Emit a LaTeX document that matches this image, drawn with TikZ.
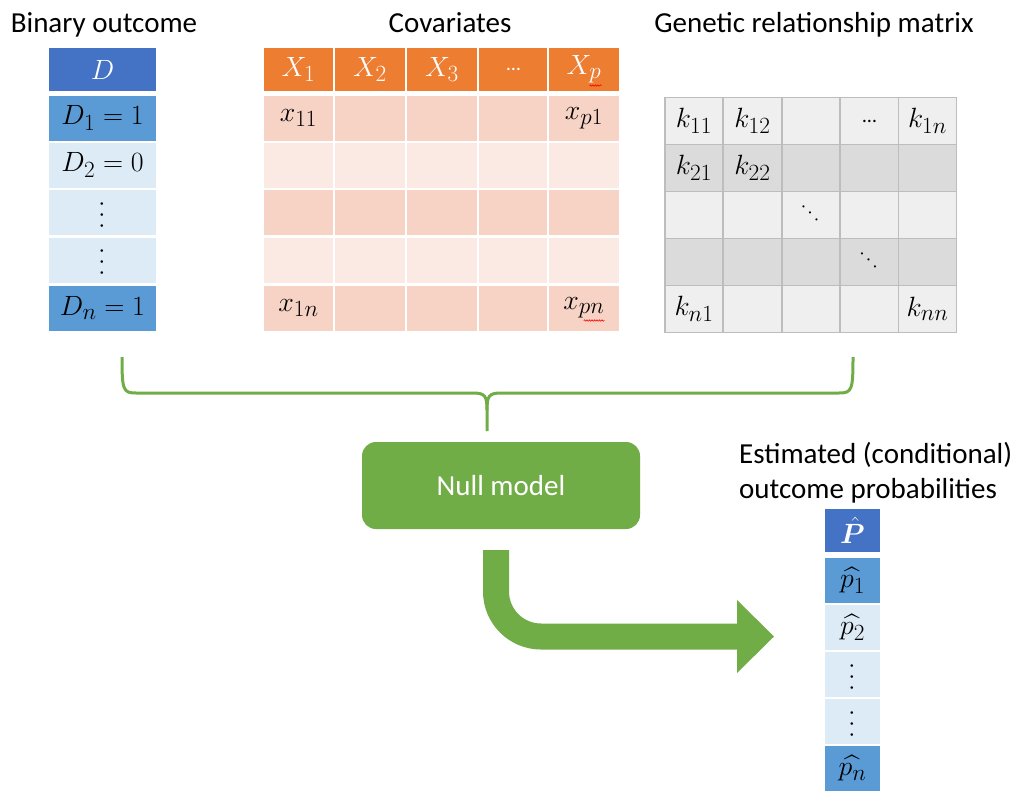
\documentclass[tikz,border=0pt]{standalone}
\usepackage{amsmath,bm,graphicx}
\usepackage[no-math]{fontspec}
\setmainfont{Carlito}
\usetikzlibrary{calc,decorations.pathmorphing}
\definecolor{dblue}{HTML}{4472C4}
\definecolor{mblue}{HTML}{5B9BD5}
\definecolor{lblue}{HTML}{DDEBF7}
\definecolor{orng}{HTML}{ED7D31}
\definecolor{pkA}{HTML}{F7D3C5}
\definecolor{pkB}{HTML}{FBE9E3}
\definecolor{grA}{HTML}{EFEFEF}
\definecolor{grB}{HTML}{DBDBDB}
\definecolor{grline}{HTML}{BDBDBD}
\definecolor{grn}{HTML}{70AD47}
\newcommand\mathsz{\fontsize{24.88}{30}\selectfont}
\newcommand\lblsz{\fontsize{29}{35}\selectfont}
\newcommand\mm[1]{\scalebox{1.12}{$#1$}}
\newcommand\myvdots{\rotatebox{90}{$\cdots$}}
\newcommand\myddots{\rotatebox{-45}{\fontsize{20}{24}\selectfont$\cdots$}}
\tikzset{
  lbl/.style={font=\lblsz, inner sep=0pt},
  bcell/.style={draw=white, line width=2pt, inner sep=0pt, minimum width=109pt, minimum height=47pt, font=\mathsz},
  ccell/.style={draw=white, line width=2pt, inner sep=0pt, minimum width=71.5pt, minimum height=47pt, font=\mathsz},
  gcell/.style={draw=grline, line width=1.5pt, inner sep=0pt, minimum width=58.4pt, minimum height=47pt, font=\mathsz},
  ecell/.style={draw=white, line width=2pt, inner sep=0pt, minimum width=57pt, minimum height=47pt, font=\mathsz},
  mtxt/.style={inner sep=0pt, font=\mathsz},
  spell/.style={red, line width=0.6pt, decorate, decoration={snake, amplitude=0.7pt, segment length=2.5pt}},
  bracestyle/.style={grn, line width=3pt},
}
\begin{document}
\begin{tikzpicture}[x=1pt,y=-1pt]
\useasboundingbox (0,0) rectangle (1020,790);
\fill[white] (0,0) rectangle (1020,790);

% titles
\node[lbl, anchor=base] (tBin) at (104,32) {Binary outcome};
\node[lbl, anchor=base] (tCov) at (450,32) {Covariates};
\node[lbl, anchor=base] (tGrm) at (814,32) {Genetic relationship matrix};
\node[lbl, anchor=base west] (tEst1) at (739,463) {Estimated (conditional)};
\node[lbl, anchor=base west] (tEst2) at (739,498) {outcome probabilities};

% binary outcome table
\node[bcell, fill=dblue, text=white, minimum height=45pt] (D0) at (102.5,69.5) {\mm{D}};
\node[bcell, fill=mblue] (D1) at (102.5,118) {\mm{D_1=1}};
\node[bcell, fill=lblue] (D2) at (102.5,165) {\mm{D_2=0}};
\node[bcell, fill=lblue] (D3) at (102.5,212.5) {\myvdots};
\node[bcell, fill=lblue] (D4) at (102.5,260) {\myvdots};
\node[bcell, fill=mblue] (D5) at (102.5,308) {\mm{D_n=1}};

% covariates table
\foreach \c/\xc in {1/298.5,2/370,3/442,4/513.5,5/584}{
  \node[ccell, fill=orng, minimum height=45pt] (cov-0-\c) at (\xc,69.5) {};
  \foreach \r/\yc/\col in {1/118/pkA,2/165/pkB,3/212.5/pkA,4/260/pkB,5/308/pkA}{
    \node[ccell, fill=\col] (cov-\r-\c) at (\xc,\yc) {};
  }
}
\node[mtxt, text=white] (tX1) at (cov-0-1) {\mm{X_1}};
\node[mtxt, text=white] (tX2) at (cov-0-2) {\mm{X_2}};
\node[mtxt, text=white] (tX3) at (cov-0-3) {\mm{X_3}};
\node[mtxt, text=white, font=\fontsize{20}{24}\selectfont] (tXd) at (cov-0-4) {\textellipsis};
\node[mtxt, text=white] (tXp) at (cov-0-5) {\mm{X_p}};
\node[mtxt] (tx11) at (cov-1-1) {\mm{x_{11}}};
\node[mtxt] (txp1) at (cov-1-5) {\mm{x_{p1}}};
\node[mtxt] (tx1n) at (cov-5-1) {\mm{x_{1n}}};
\node[mtxt] (txpn) at (cov-5-5) {\mm{x_{pn}}};
\draw[spell] ($(tXp.south east)+(-12,2)$) -- ($(tXp.south east)+(0,2)$);
\draw[spell] ($(txpn.south east)+(-21,2)$) -- ($(txpn.south east)+(0,2)$);

% genetic relationship matrix
\foreach \c/\xc in {1/694,2/752.5,3/811,4/869.5,5/927.5}{
  \foreach \r/\yc/\col in {1/121/grA,2/168/grB,3/215/grA,4/262/grB,5/309/grA}{
    \node[gcell, fill=\col] (k-\r-\c) at (\xc,\yc) {};
  }
}
\node[mtxt] (tk11) at (k-1-1) {\mm{k_{11}}};
\node[mtxt] (tk12) at (k-1-2) {\mm{k_{12}}};
\node[mtxt, font=\fontsize{20}{24}\selectfont] (tk1d) at (k-1-4) {\textellipsis};
\node[mtxt] (tk1n) at (k-1-5) {\mm{k_{1n}}};
\node[mtxt] (tk21) at (k-2-1) {\mm{k_{21}}};
\node[mtxt] (tk22) at (k-2-2) {\mm{k_{22}}};
\node[mtxt] (tkd3) at (k-3-3) {\myddots};
\node[mtxt] (tkd4) at (k-4-4) {\myddots};
\node[mtxt] (tkn1) at (k-5-1) {\mm{k_{n1}}};
\node[mtxt] (tknn) at (k-5-5) {\mm{k_{nn}}};

% brace
\coordinate (bl) at (122,357);
\coordinate (br) at (853,357);
\coordinate (bt) at (487,431);
\draw[bracestyle] (bl) .. controls (122,390) and (123,393) .. (136,393) -- (473,393)
  .. controls (485,393) and (487,396) .. (487,410) -- (bt);
\draw[bracestyle] (br) .. controls (853,390) and (852,393) .. (839,393) -- (501,393)
  .. controls (489,393) and (487,396) .. (487,410);

% null model
\node[fill=grn, rounded corners=14pt, minimum width=278pt, minimum height=87pt, inner sep=0pt, text=white, font=\lblsz] (null) at (501,485.5) {Null model};

% bent arrow
\coordinate (a0) at (496,550);
\coordinate (a1) at (496,636.5);
\coordinate (a2) at (738,636.5);
\draw[grn, line width=26pt, rounded corners=45pt] (a0) -- (a1) -- (a2);
\fill[grn] (737,600) -- (774,636.5) -- (737,673) -- cycle;

% estimated probabilities table
\node[ecell, fill=dblue, text=white, minimum height=45pt] (P0) at (852.5,530.5) {\mm{\hat{\bm{P}}}};
\node[ecell, fill=mblue] (P1) at (852.5,580.5) {\mm{\widehat{p_1}}};
\node[ecell, fill=lblue] (P2) at (852.5,627.5) {\mm{\widehat{p_2}}};
\node[ecell, fill=lblue] (P3) at (852.5,674.5) {\myvdots};
\node[ecell, fill=lblue] (P4) at (852.5,721.5) {\myvdots};
\node[ecell, fill=mblue] (P5) at (852.5,768.5) {\mm{\widehat{p_n}}};
\end{tikzpicture}
\end{document}
